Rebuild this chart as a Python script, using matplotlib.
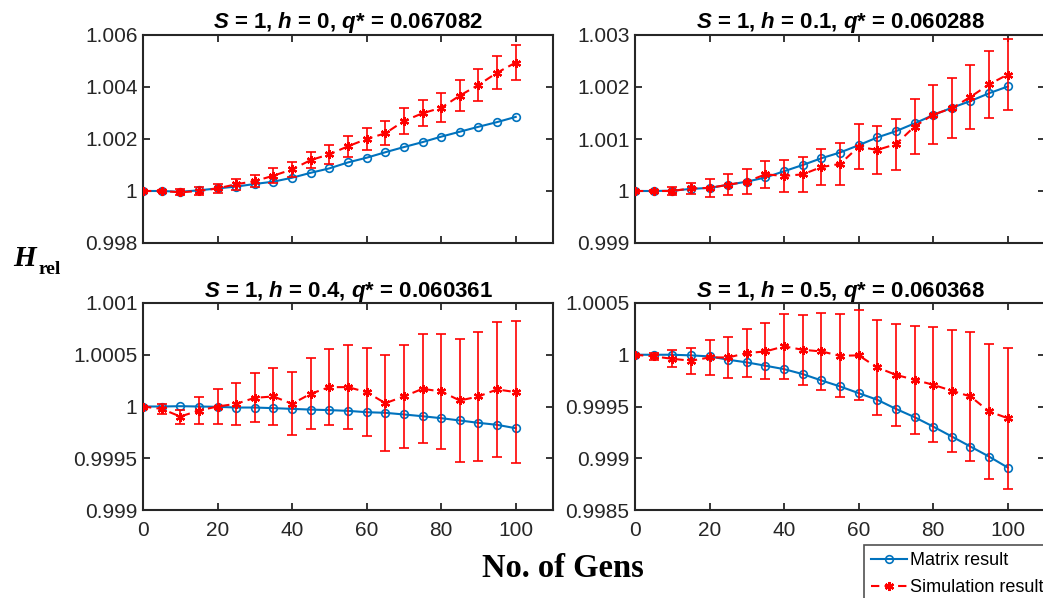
import numpy as np
import matplotlib.pyplot as plt
from matplotlib.ticker import FuncFormatter

plt.rcParams['font.family'] = 'Liberation Sans'
plt.rcParams['mathtext.fontset'] = 'custom'
plt.rcParams['mathtext.it'] = 'Liberation Sans:italic:bold'
plt.rcParams['mathtext.rm'] = 'Liberation Sans:bold'

gens = [0, 5, 10, 15, 20, 25, 30, 35, 40, 45, 50, 55, 60, 65, 70, 75, 80, 85, 90, 95, 100]

# h = 0
matrix_h0 = [1.0, 1.0, 0.99997, 1.000026, 1.0001, 1.00017, 1.00027, 1.00036, 1.00051, 1.0007, 1.00087,
             1.0011, 1.00128, 1.00149, 1.00169, 1.00188, 1.00209, 1.00228, 1.00247, 1.00265, 1.00285]
sim_h0 = [1.0, 1.0, 0.99995, 1.0, 1.0001, 1.00026, 1.00038, 1.00059, 1.00083, 1.00119, 1.00141,
          1.00172, 1.002, 1.00222, 1.00269, 1.00299, 1.0032, 1.00367, 1.00408, 1.00455, 1.00494]
err_h0 = [0.0, 0.00005, 0.00012, 0.00014, 0.00016, 0.00022, 0.00024, 0.00028, 0.0003, 0.00032, 0.00037,
          0.0004, 0.00041, 0.00046, 0.00049, 0.0005, 0.00055, 0.00058, 0.0006, 0.00064, 0.00067]

# h = 0.1
matrix_h01 = [1.0, 1.0, 1.000006, 1.00004, 1.00006, 1.00012, 1.00018, 1.00026, 1.00038, 1.0005, 1.00063,
              1.00074, 1.00088, 1.00103, 1.00115, 1.0013, 1.00146, 1.0016, 1.00173, 1.00188, 1.00201]
sim_h01 = [1.0, 1.0, 1.0, 1.00005, 1.00006, 1.00012, 1.00018, 1.00032, 1.00029, 1.00032, 1.00046,
           1.00052, 1.00085, 1.00079, 1.0009, 1.00124, 1.00147, 1.00159, 1.00181, 1.00205, 1.00224]
err_h01 = [0.0, 0.00002, 0.00008, 0.00011, 0.00017, 0.0002, 0.00024, 0.00026, 0.00031, 0.00033, 0.00035,
           0.0004, 0.00043, 0.00046, 0.00049, 0.00053, 0.00056, 0.00058, 0.00062, 0.00064, 0.00068]

# h = 0.4
matrix_h04 = [1.0, 1.0, 1.000003, 1.0, 0.999997, 0.99999, 0.99999, 0.999984, 0.999977, 0.99997, 0.999965,
              0.999958, 0.999945, 0.999939, 0.999923, 0.999906, 0.999887, 0.999865, 0.999842, 0.999823, 0.99979]
sim_h04 = [1.0, 0.999977, 0.999903, 0.999961, 1.0, 1.000026, 1.000084, 1.000097, 1.000026, 1.000123, 1.000187,
           1.000187, 1.000139, 1.000032, 1.000097, 1.000171, 1.000145, 1.000058, 1.000097, 1.000165, 1.000139]
err_h04 = [0.0, 0.000045, 0.000068, 0.000126, 0.000165, 0.0002, 0.000235, 0.000271, 0.000303, 0.000342, 0.000368,
           0.000403, 0.000426, 0.000465, 0.000497, 0.000526, 0.000558, 0.00059, 0.000619, 0.000652, 0.000684]

# h = 0.5
matrix_h05 = [1.0, 1.0, 1.0, 0.999994, 0.999984, 0.999952, 0.999926, 0.999894, 0.999861, 0.999813, 0.999752,
              0.999694, 0.999629, 0.999565, 0.999477, 0.999397, 0.999306, 0.99921, 0.999113, 0.999016, 0.99891]
sim_h05 = [1.0, 0.999984, 0.999961, 0.999942, 0.999974, 0.999974, 1.000016, 1.000032, 1.000081, 1.000048, 1.000032,
           0.99999, 0.999994, 0.999877, 0.999806, 0.999758, 0.99971, 0.999652, 0.999597, 0.999452, 0.999387]
err_h05 = [0.0, 0.000035, 0.000084, 0.000126, 0.000165, 0.0002, 0.000235, 0.000271, 0.000313, 0.000339, 0.000371,
           0.000403, 0.000435, 0.000461, 0.00049, 0.000523, 0.000555, 0.000587, 0.000619, 0.000652, 0.000681]

titles = [r'$S$ = 1, $h$ = 0, $q$* = 0.067082',
          r'$S$ = 1, $h$ = 0.1, $q$* = 0.060288',
          r'$S$ = 1, $h$ = 0.4, $q$* = 0.060361',
          r'$S$ = 1, $h$ = 0.5, $q$* = 0.060368']
ylims = [(0.998, 1.006), (0.999, 1.003), (0.999, 1.001), (0.9985, 1.0005)]
yticks = [[0.998, 1.0, 1.002, 1.004, 1.006],
          [0.999, 1.0, 1.001, 1.002, 1.003],
          [0.999, 0.9995, 1.0, 1.0005, 1.001],
          [0.9985, 0.999, 0.9995, 1.0, 1.0005]]
matrix = [matrix_h0, matrix_h01, matrix_h04, matrix_h05]
sim = [sim_h0, sim_h01, sim_h04, sim_h05]
err = [err_h0, err_h01, err_h04, err_h05]

blue = '#0072BD'
red = '#FF0000'
dark = '#262626'

W, H = 1043, 598
fig = plt.figure(figsize=(W / 100, H / 100), dpi=100)
boxes = [(143, 35, 410, 208), (635, 35, 410, 208), (143, 303, 410, 207), (635, 303, 410, 207)]

for k in range(4):
    x0, y0, w, h = boxes[k]
    ax = fig.add_axes([x0 / W, 1 - (y0 + h) / H, w / W, h / H])
    ax.errorbar(gens, sim[k], yerr=err[k], fmt='none', ecolor=red, elinewidth=1.2,
                capsize=3.8, capthick=1.2, zorder=3)
    l1, = ax.plot(gens, matrix[k], '-o', color=blue, lw=1.5, ms=5.5, mfc='none', mew=1.2,
                  zorder=2, label='Matrix result')
    l2, = ax.plot(gens, sim[k], color=red, ls=(0, (4, 2.5)), lw=1.5, marker=(6, 2, 0), ms=6.5,
                  mew=1.6, zorder=4, label='Simulation result')
    ax.set_xlim(0, 110)
    ax.set_ylim(*ylims[k])
    ax.set_xticks([0, 20, 40, 60, 80, 100])
    ax.set_yticks(yticks[k])
    ax.yaxis.set_major_formatter(FuncFormatter(lambda v, p: '%g' % round(v, 6)))
    ax.tick_params(direction='in', top=True, right=True, length=5, width=1.3,
                   labelsize=15, colors=dark, pad=4)
    ax.tick_params(axis='x', pad=8)
    if k < 2:
        ax.tick_params(labelbottom=False)
    for s in ax.spines.values():
        s.set_linewidth(1.5)
        s.set_color(dark)
    ax.set_title(titles[k], fontsize=16, fontweight='bold', color='black', pad=4)

fig.text(13 / W, 1 - 266 / H, 'H', family='Liberation Serif', style='italic', weight='bold',
         fontsize=21, va='baseline', ha='left')
fig.text(39 / W, 1 - 274 / H, 'rel', family='Liberation Serif', weight='bold',
         fontsize=14, va='baseline', ha='left')
fig.text(563 / W, 1 - 577 / H, 'No. of Gens', family='Liberation Serif', weight='bold',
         fontsize=23.5, va='baseline', ha='center')

leg = fig.legend([l1, l2], ['Matrix result', 'Simulation result'],
                 loc='upper left', bbox_to_anchor=(864 / W, 1 - 545 / H),
                 fontsize=13, frameon=True, fancybox=False, handlelength=2.0,
                 handletextpad=0.15, borderpad=0.4, labelspacing=0.55, borderaxespad=0)
leg.get_frame().set_edgecolor(dark)
leg.get_frame().set_linewidth(1.2)

fig.savefig('out.png', dpi=100)
